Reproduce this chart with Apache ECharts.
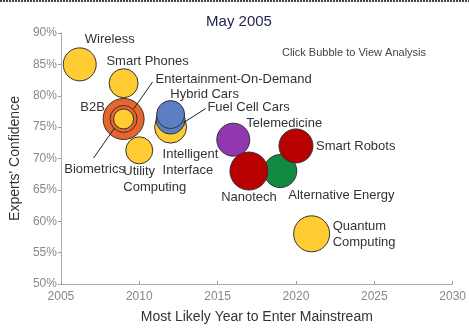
<!DOCTYPE html>
<html>
<head>
<meta charset="utf-8">
<script src="https://cdn.jsdelivr.net/npm/echarts@6/dist/echarts.min.js"></script>
<style>
html,body{margin:0;padding:0;background:#fff;}
#chart{width:469px;height:329px;}
</style>
</head>
<body>
<div id="chart"></div>
<script>
// ---- data (draw order) ----
const names = ['Wireless','Smart Phones','B2B','Entertainment-On-Demand','Biometrics','Utility Computing','Intelligent Interface','Fuel Cell Cars','Hybrid Cars','Telemedicine','Alternative Energy','Smart Robots','Nanotech','Quantum Computing'];
const labelText = ['Wireless','Smart Phones','B2B','Entertainment-On-Demand','Biometrics','Utility\nComputing','Intelligent\nInterface','Fuel Cell Cars','Hybrid Cars','Telemedicine','Alternative Energy','Smart Robots','Nanotech','Quantum\nComputing'];
const years = [2006.2, 2009, 2009, 2009, 2009, 2010, 2012, 2012, 2012, 2016, 2019, 2020, 2017, 2021];
const confidence = [85, 82, 76.3, 76.3, 76.3, 71.3, 75, 76.2, 77, 73, 68, 72, 68, 58];
const bubbleSize = [33, 29, 41, 27, 20, 27, 32, 29, 28, 33, 33, 34, 38, 36];
const xTicks = [2005, 2010, 2015, 2020, 2025, 2030];
const yTicks = [50, 55, 60, 65, 70, 75, 80, 85, 90];

// ---- styles ----
const colorOf = {
  'Wireless':'#FFCC33','Smart Phones':'#FFCC33','B2B':'#E8652C','Entertainment-On-Demand':'#E8652C',
  'Biometrics':'#FFCC33','Utility Computing':'#FFCC33','Intelligent Interface':'#FFCC33',
  'Fuel Cell Cars':'#5B7FC2','Hybrid Cars':'#5B7FC2','Telemedicine':'#9138B0',
  'Alternative Energy':'#138A42','Smart Robots':'#B80000','Nanotech':'#B80000','Quantum Computing':'#FFCC33'
};
// label placement relative to bubble centre (px)
const labelPos = {
  'Wireless':[30,-25,'center'],'Smart Phones':[24,-22,'center'],'B2B':[-31,-12,'center'],
  'Entertainment-On-Demand':[110,-40,'center'],'Biometrics':[-29,50,'center'],
  'Utility Computing':[-16,29,'left'],'Intelligent Interface':[-8,35,'left'],
  'Fuel Cell Cars':[78,-12,'center'],'Hybrid Cars':[34,-20,'center'],'Telemedicine':[51,-16,'center'],
  'Alternative Energy':[8,24,'left'],'Smart Robots':[20,0,'left'],'Nanotech':[0,26,'center'],
  'Quantum Computing':[21,1,'left']
};
// leader lines: [name, from offset, to offset]
const leaders = [
  ['Entertainment-On-Demand',[29,-37],[10,-10]],
  ['Biometrics',[-30,39],[-9,9]],
  ['Fuel Cell Cars',[35,-11],[13,3]]
];

const data = names.map((n,i)=>{
  const lp = labelPos[n];
  return {
    name:n,
    value:[years[i], confidence[i], bubbleSize[i]],
    symbolSize:bubbleSize[i],
    itemStyle:{color:colorOf[n]},
    label:{show:true, formatter:labelText[i], position:'inside', offset:[lp[0],lp[1]], align:lp[2], verticalAlign:'middle'}
  };
});

const chart = echarts.init(document.getElementById('chart'), null, {renderer:'canvas'});
const option = {
  animation:false,
  backgroundColor:'#ffffff',
  title:[
    {text:'May 2005', left:234, top:9, textAlign:'center', textStyle:{fontFamily:'Liberation Sans, Arial', fontSize:15, fontWeight:'normal', color:'#1E2150'}},
    {text:'Click Bubble to View Analysis', left:349, top:42, textAlign:'center', textStyle:{fontFamily:'Liberation Sans, Arial', fontSize:11, fontWeight:'normal', color:'#444'}}
  ],
  grid:{left:57, right:15, top:33, bottom:44, containLabel:false},
  xAxis:{
    type:'value', min:xTicks[0], max:xTicks[xTicks.length-1], interval:5,
    name:'Most Likely Year to Enter Mainstream', nameLocation:'middle', nameGap:26,
    nameTextStyle:{fontFamily:'Liberation Sans, Arial', fontSize:14, color:'#333'},
    axisLine:{show:true, lineStyle:{color:'#999', type:'dotted', width:1}},
    axisTick:{show:true, inside:true, length:3, lineStyle:{color:'#999'}},
    axisLabel:{margin:7, formatter:v=>String(v), fontFamily:'Liberation Sans, Arial', fontSize:12, color:'#888'},
    splitLine:{show:false}
  },
  yAxis:{
    type:'value', min:yTicks[0], max:yTicks[yTicks.length-1], interval:5,
    name:"Experts' Confidence", nameLocation:'middle', nameGap:36,
    nameTextStyle:{fontFamily:'Liberation Sans, Arial', fontSize:14, color:'#333'},
    axisLine:{show:true, lineStyle:{color:'#999', type:'dotted', width:1}},
    axisTick:{show:true, length:3, lineStyle:{color:'#999'}},
    axisLabel:{margin:4, formatter:'{value}%', fontFamily:'Liberation Sans, Arial', fontSize:12, color:'#888'},
    splitLine:{show:false}
  },
  series:[{
    type:'scatter',
    data:data,
    itemStyle:{borderColor:'#333', borderWidth:1, opacity:1},
    label:{color:'#333', fontFamily:'Liberation Sans, Arial', fontSize:13, lineHeight:16},
    emphasis:{disabled:true}
  }],
  graphic:[
    {type:'line', shape:{x1:0,y1:1,x2:469,y2:1}, style:{stroke:'#444', lineWidth:2, lineDash:[2,1]}}
  ]
};
chart.setOption(option);

// leader lines anchored to bubble centres computed by the axes
const extra = leaders.map(([n,a,b])=>{
  const i = names.indexOf(n);
  const p = chart.convertToPixel({gridIndex:0},[years[i], confidence[i]]);
  return {type:'line', z:100, shape:{x1:p[0]+a[0], y1:p[1]+a[1], x2:p[0]+b[0], y2:p[1]+b[1]}, style:{stroke:'#222', lineWidth:1}};
});
chart.setOption({graphic:[option.graphic[0]].concat(extra)});
</script>
</body>
</html>
